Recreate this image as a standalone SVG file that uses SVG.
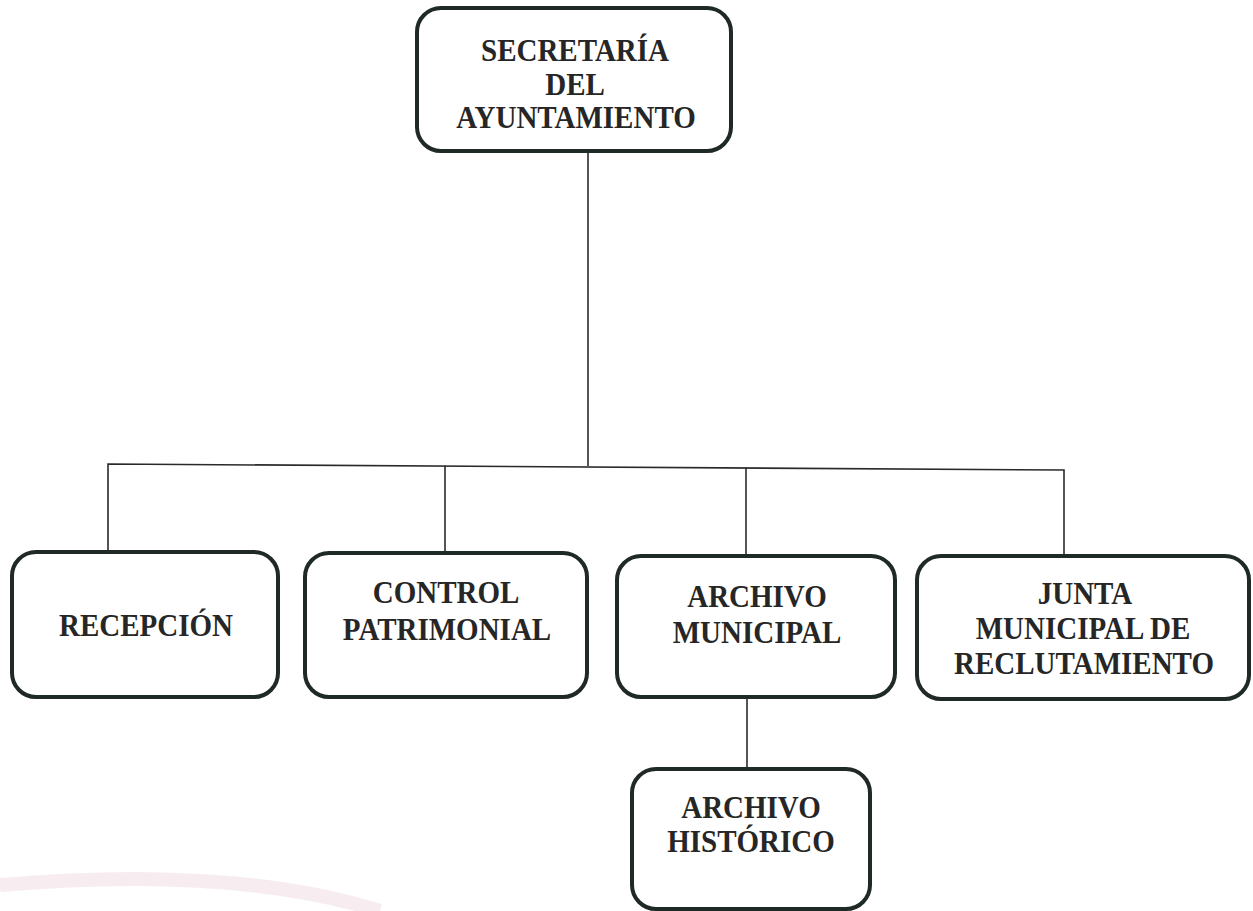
<svg xmlns="http://www.w3.org/2000/svg" width="1253" height="911" viewBox="0 0 1253 911">
<style>
.box{fill:#fff;stroke:#1f2925;stroke-width:4}
.lbl{font-family:"Liberation Serif","Times New Roman",serif;font-weight:bold;font-size:29px;fill:#262626;text-anchor:middle}
.conn{fill:none;stroke:#2a2a2a;stroke-width:1.6}
</style>
<rect width="1253" height="911" fill="#fff"/>
<path d="M0,885 C150,872 280,880 380,911" fill="none" stroke="#ecd3da" stroke-width="14" opacity="0.4"/>
<g id="connectors">
<path class="conn" d="M588,151 V466"/>
<path class="conn" d="M108,552 V464 L1064,470 V556"/>
<path class="conn" d="M445,553 V465.8"/>
<path class="conn" d="M746,556 V467.7"/>
<path class="conn" d="M747,697 V769"/>
</g>
<g id="n-secretaria">
<rect class="box" x="417" y="8" width="314" height="143" rx="24"/>
<text class="lbl" transform="translate(575,61) scale(1,1.06)">SECRETARÍA</text>
<text class="lbl" transform="translate(575,95) scale(1,1.06)">DEL</text>
<text class="lbl" transform="translate(576,128) scale(1,1.06)">AYUNTAMIENTO</text>
</g>
<g id="n-recepcion">
<rect class="box" x="12" y="552" width="266" height="145" rx="24"/>
<text class="lbl" transform="translate(146,636) scale(1,1.06)">RECEPCIÓN</text>
</g>
<g id="n-control">
<rect class="box" x="305" y="553" width="282" height="144" rx="24"/>
<text class="lbl" transform="translate(446,603) scale(1,1.06)">CONTROL</text>
<text class="lbl" transform="translate(447,640) scale(1,1.06)">PATRIMONIAL</text>
</g>
<g id="n-archivo-municipal">
<rect class="box" x="617" y="556" width="278" height="141" rx="24"/>
<text class="lbl" transform="translate(757,607) scale(1,1.06)">ARCHIVO</text>
<text class="lbl" transform="translate(757,643) scale(1,1.06)">MUNICIPAL</text>
</g>
<g id="n-junta">
<rect class="box" x="917" y="556" width="332" height="143" rx="24"/>
<text class="lbl" transform="translate(1085,604) scale(1,1.06)">JUNTA</text>
<text class="lbl" transform="translate(1083,639) scale(1,1.06)">MUNICIPAL DE</text>
<text class="lbl" transform="translate(1084,674) scale(1,1.06)">RECLUTAMIENTO</text>
</g>
<g id="n-archivo-historico">
<rect class="box" x="632" y="769" width="238" height="140" rx="24"/>
<text class="lbl" transform="translate(751,818) scale(1,1.06)">ARCHIVO</text>
<text class="lbl" transform="translate(751,852) scale(1,1.06)">HISTÓRICO</text>
</g>
</svg>
